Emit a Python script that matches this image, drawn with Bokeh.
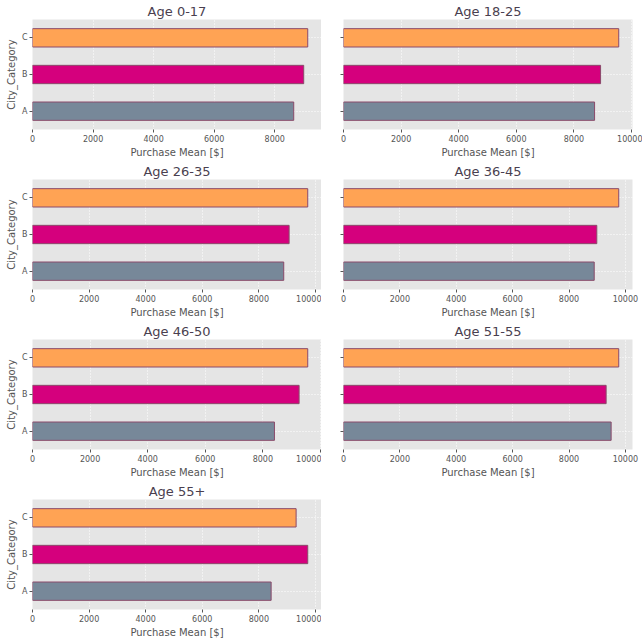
from bokeh.plotting import figure
from bokeh.layouts import gridplot
from bokeh.models import Range1d, FactorRange, FixedTicker, ColumnDataSource
from bokeh.embed import file_html
from bokeh.resources import INLINE

age_groups = ["0-17", "18-25", "26-35", "36-45", "46-50", "51-55", "55+"]
cities = ["A", "B", "C"]
mean_A = [8627, 8718, 8880, 8894, 8403, 9494, 8434]
mean_B = [8957, 8926, 9070, 8986, 9259, 9317, 9728]
mean_C = [9090, 9557, 9728, 9764, 9559, 9764, 9317]
city_colors = ["#778899", "#d5007d", "#ffa354"]
x_ticks = [0, 2000, 4000, 6000, 8000, 10000]

FONT = "DejaVu Sans"
TXT = "#555555"

figs = []
for i, age in enumerate(age_groups):
    left = (i % 2 == 0)
    vals = [mean_A[i], mean_B[i], mean_C[i]]
    src = ColumnDataSource(dict(city=cities, val=vals, color=city_colors))
    p = figure(width=321, height=160, output_backend="svg", toolbar_location=None,
               y_range=FactorRange(*cities), x_range=Range1d(0, max(vals) * 1.05),
               min_border_left=32 if left else 22, min_border_right=0 if left else 10,
               min_border_top=0, min_border_bottom=0,
               background_fill_color="#e5e5e5", border_fill_color="white",
               outline_line_color=None, title="Age " + age)
    p.title.align = "center"
    p.title.text_font = FONT
    p.title.text_font_size = "13px"
    p.title.text_font_style = "normal"
    p.title.text_color = "#4a3f4f"
    p.title.standoff = 2
    p.hbar(y="city", right="val", left=0, height=0.5, source=src,
           fill_color="color", line_color="#8a4a6a", line_width=1)
    p.xaxis.ticker = FixedTicker(ticks=x_ticks)
    p.xaxis.axis_label = "Purchase Mean [$]"
    for ax in (p.xaxis[0], p.yaxis[0]):
        ax.axis_line_color = None
        ax.major_tick_line_color = TXT
        ax.major_tick_in = 0
        ax.major_tick_out = 3
        ax.minor_tick_line_color = None
        ax.major_label_text_font = FONT
        ax.major_label_text_font_size = "8px"
        ax.major_label_text_color = TXT
        ax.major_label_standoff = 2
        ax.axis_label_text_font = FONT
        ax.axis_label_text_font_size = "10px"
        ax.axis_label_text_font_style = "normal"
        ax.axis_label_text_color = TXT
        ax.axis_label_standoff = 2
    if left:
        p.yaxis.axis_label = "City_Category"
    else:
        p.yaxis.major_label_text_alpha = 0
    for g in (p.xgrid[0], p.ygrid[0]):
        g.grid_line_color = "white"
        g.grid_line_dash = "1 2"
        g.grid_line_width = 1
    figs.append(p)

grid = gridplot([[figs[0], figs[1]], [figs[2], figs[3]], [figs[4], figs[5]], [figs[6], None]],
                toolbar_location=None)

open("out.html", "w").write(file_html(grid, INLINE))
